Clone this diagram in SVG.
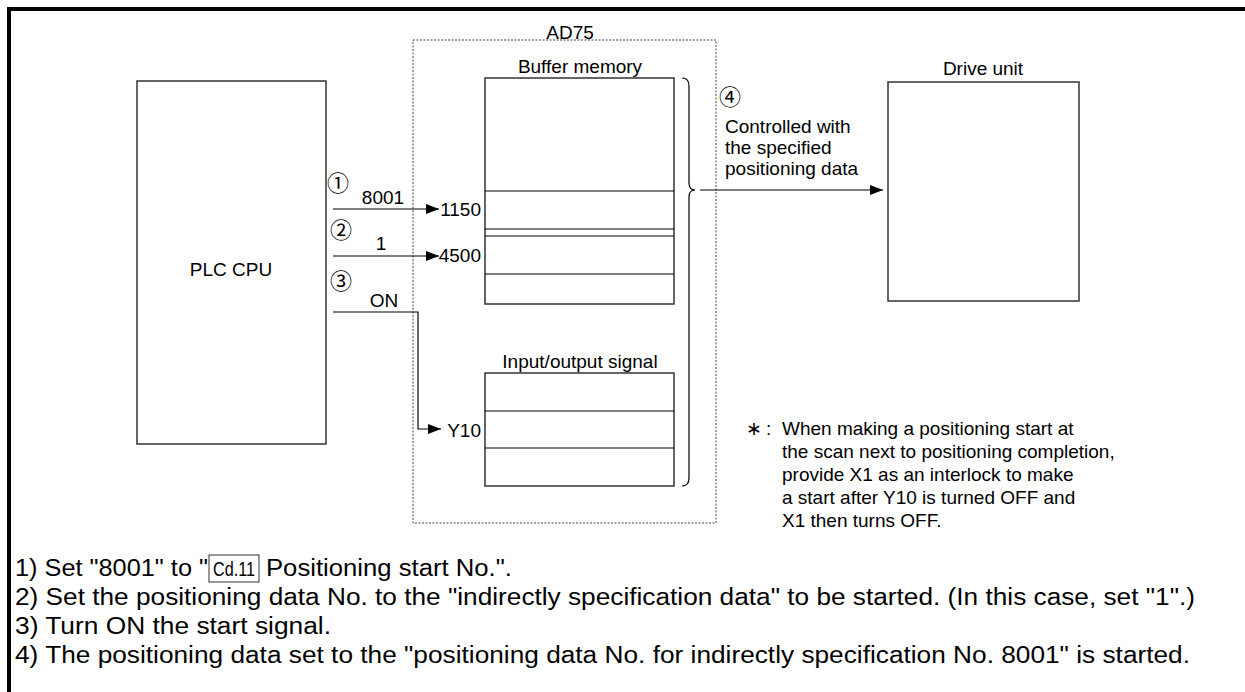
<svg xmlns="http://www.w3.org/2000/svg" width="1245" height="692" viewBox="0 0 1245 692">
<defs>
<marker id="ah" markerUnits="userSpaceOnUse" markerWidth="14" markerHeight="10" refX="13" refY="5" orient="auto">
<path d="M0,0 L13,5 L0,10 z" fill="#000"/>
</marker>
<style>
text{font-family:"Liberation Sans",Arial,sans-serif;fill:#000}
.lb{font-size:19px}
.an{font-size:19px}
.bt{font-size:23px}
.cd{font-size:20px}
.circ{font-family:"Noto Sans CJK JP","DejaVu Sans",sans-serif;font-size:22px}
.box{fill:#fff;stroke:#333;stroke-width:1.5}
.sep{stroke:#000;stroke-width:1;fill:none}
.dot{fill:none;stroke:#444;stroke-width:1;stroke-dasharray:2 1.5}
.con{fill:none;stroke:#000;stroke-width:1.2}
</style>
</defs>
<rect width="1245" height="692" fill="#fff"/>
<path d="M9,692 L9,9 L1245,9" fill="none" stroke="#000" stroke-width="4"/>

<g id="ad75">
<rect class="dot" x="413" y="40" width="303" height="483"/>
<text class="lb" x="570" y="39" text-anchor="middle">AD75</text>
</g>

<g id="plc-cpu">
<rect class="box" x="137" y="81" width="189" height="363"/>
<text class="lb" x="231" y="276" text-anchor="middle">PLC CPU</text>
</g>

<g id="buffer-memory">
<text class="lb" x="580" y="73" text-anchor="middle">Buffer memory</text>
<rect class="box" x="485" y="78" width="189" height="226"/>
<path class="sep" d="M485,191 H674 M485,229 H674 M485,236 H674 M485,274 H674"/>
<text class="lb" x="481" y="216" text-anchor="end">1150</text>
<text class="lb" x="481" y="262" text-anchor="end">4500</text>
</g>

<g id="io-signal">
<text class="lb" x="580" y="368" text-anchor="middle">Input/output signal</text>
<rect class="box" x="485" y="373" width="189" height="113"/>
<path class="sep" d="M485,411 H674 M485,448 H674"/>
<text class="lb" x="481" y="437" text-anchor="end">Y10</text>
</g>

<g id="drive-unit">
<text class="lb" x="983" y="75" text-anchor="middle">Drive unit</text>
<rect class="box" x="888" y="82" width="191" height="219"/>
</g>

<g id="connectors">
<path class="con" d="M333,209 H439" marker-end="url(#ah)"/>
<path class="con" d="M333,256 H439" marker-end="url(#ah)"/>
<path class="con" d="M333,312 H418 V429 H441" marker-end="url(#ah)"/>
<path class="con" d="M700,190 H883" marker-end="url(#ah)"/>
<path class="con" d="M682,78 Q689,78 689,86 L689,183 Q689,190 695,190 Q689,190 689,197 L689,478 Q689,486 682,486"/>
<text class="circ" x="327" y="191">①</text>
<text class="lb" x="383" y="204" text-anchor="middle">8001</text>
<text class="circ" x="330" y="238">②</text>
<text class="lb" x="381" y="250" text-anchor="middle">1</text>
<text class="circ" x="330" y="289">③</text>
<text class="lb" x="384" y="307" text-anchor="middle">ON</text>
<text class="circ" x="719" y="105">④</text>
<text class="lb" x="725" y="133">Controlled with</text>
<text class="lb" x="725" y="154">the specified</text>
<text class="lb" x="725" y="175">positioning data</text>
</g>

<g id="note">
<text class="an" x="746" y="435">∗</text>
<text class="an" x="766" y="435">:</text>
<text class="an" x="782" y="435">When making a positioning start at</text>
<text class="an" x="782" y="458">the scan next to positioning completion,</text>
<text class="an" x="782" y="481">provide X1 as an interlock to make</text>
<text class="an" x="782" y="504">a start after Y10 is turned OFF and</text>
<text class="an" x="782" y="527">X1 then turns OFF.</text>
</g>

<g id="steps">
<text class="bt" x="15" y="576" textLength="193" lengthAdjust="spacingAndGlyphs">1) Set "8001" to "</text>
<rect x="209" y="555" width="50" height="27" fill="none" stroke="#333" stroke-width="1"/>
<text class="cd" x="213" y="576" textLength="42" lengthAdjust="spacingAndGlyphs">Cd.11</text>
<text class="bt" x="266" y="576" textLength="246" lengthAdjust="spacingAndGlyphs">Positioning start No.".</text>
<text class="bt" x="15" y="605" textLength="1180" lengthAdjust="spacingAndGlyphs">2) Set the positioning data No. to the "indirectly specification data" to be started. (In this case, set "1".)</text>
<text class="bt" x="15" y="634" textLength="316" lengthAdjust="spacingAndGlyphs">3) Turn ON the start signal.</text>
<text class="bt" x="15" y="663" textLength="1175" lengthAdjust="spacingAndGlyphs">4) The positioning data set to the "positioning data No. for indirectly specification No. 8001" is started.</text>
</g>
</svg>
